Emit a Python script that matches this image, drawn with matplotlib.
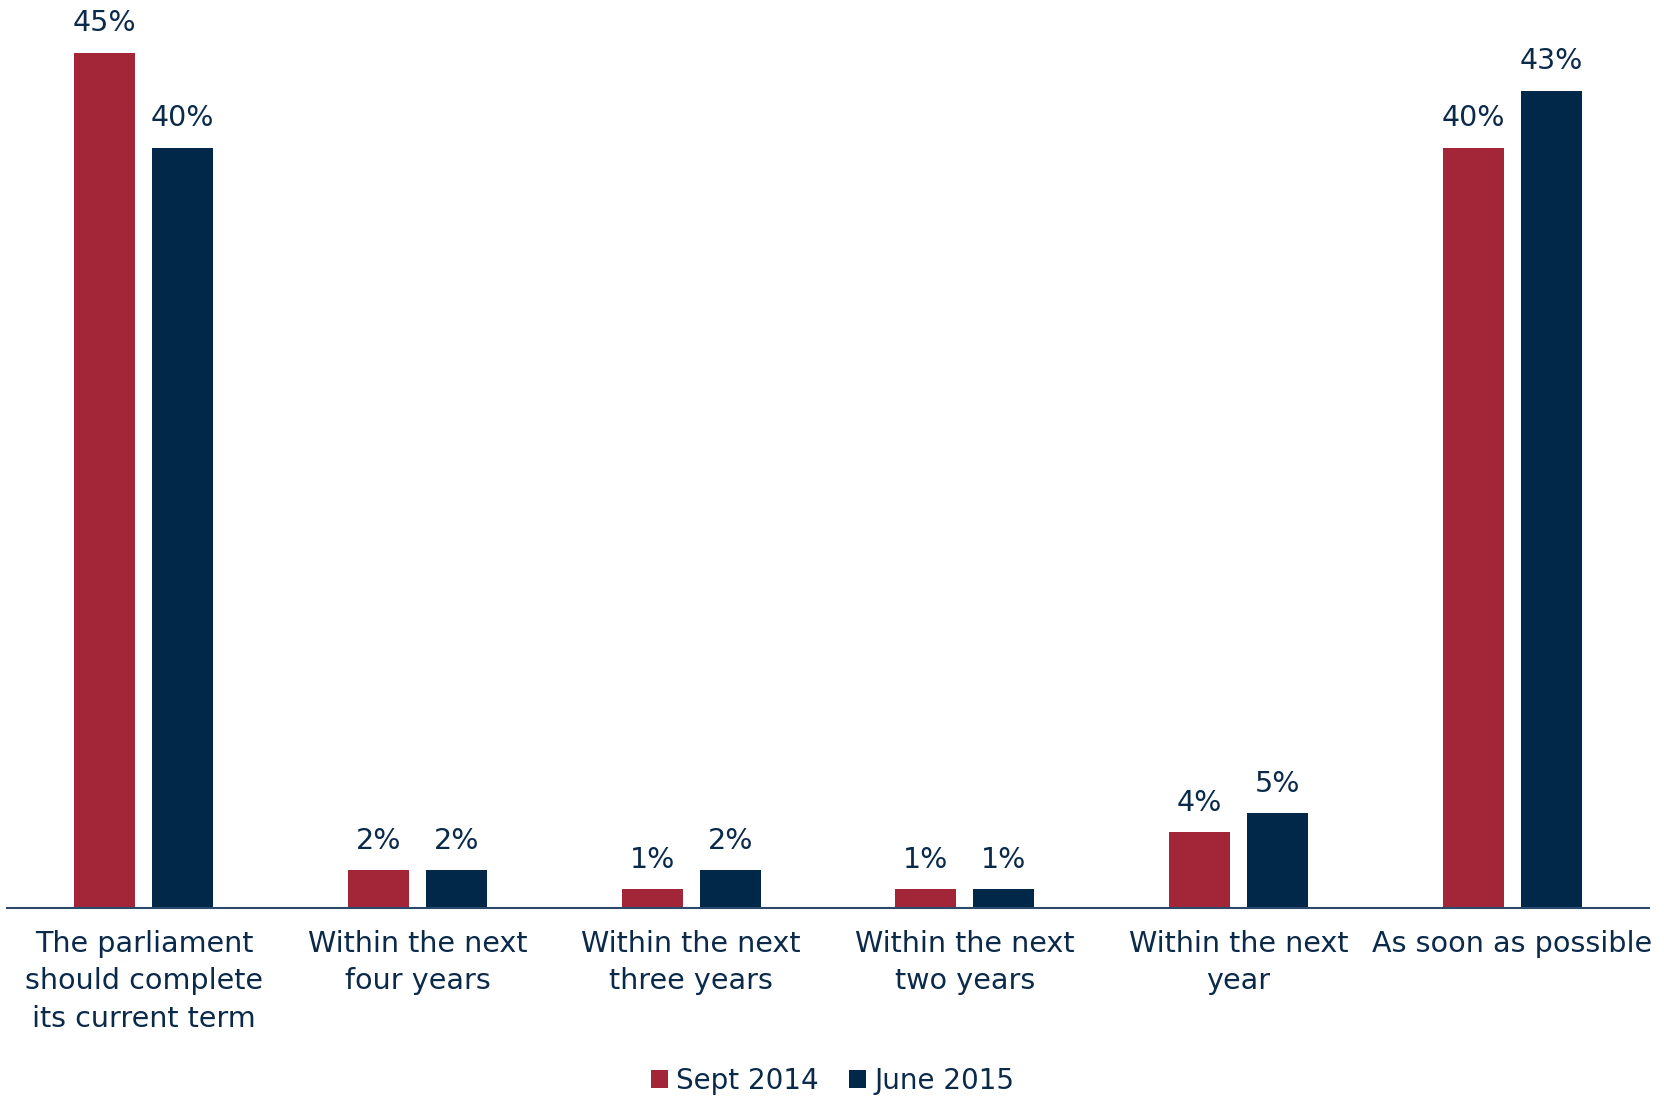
import matplotlib
matplotlib.use("Agg")
import matplotlib.pyplot as plt
import numpy as np

categories = ["The parliament\nshould complete\nits current term",
              "Within the next\nfour years",
              "Within the next\nthree years",
              "Within the next\ntwo years",
              "Within the next\nyear",
              "As soon as possible"]
series_names = ["Sept 2014", "June 2015"]
sept_2014 = [45, 2, 1, 1, 4, 40]
june_2015 = [40, 2, 2, 1, 5, 43]

RED = "#A32638"
NAVY = "#012749"
TEXT = "#0B2A4A"

plt.rcParams['font.family'] = ['DejaVu Sans']

fig = plt.figure(figsize=(16.65, 10.97), dpi=100)
ax = fig.add_axes([7/1665, 1 - 908/1097, (1649-7)/1665, 903/1097])

x = np.arange(len(categories))
w = 0.223
off = 0.1425
b1 = ax.bar(x - off, sept_2014, w, color=RED, label=series_names[0])
b2 = ax.bar(x + off, june_2015, w, color=NAVY, label=series_names[1])

for bars, vals in ((b1, sept_2014), (b2, june_2015)):
    for r, v in zip(bars, vals):
        ax.annotate(f"{v}%", (r.get_x() + r.get_width()/2, r.get_height()),
                    xytext=(0, 11), textcoords="offset points",
                    ha="center", va="bottom", fontsize=20.5, color=TEXT,
                    annotation_clip=False)

ax.set_xlim(-0.5, 5.5)
ax.set_ylim(0, 47.5)
ax.set_xticks(x)
ax.set_xticklabels(categories, fontsize=20.6, color=TEXT, linespacing=1.42)
ax.tick_params(axis="x", length=0, pad=16)
ax.set_yticks([])
for s in ("top", "left", "right"):
    ax.spines[s].set_visible(False)
ax.spines["bottom"].set_color("#2B4A6B")
ax.spines["bottom"].set_linewidth(1.5)

leg = fig.legend(handles=[b1, b2], labels=series_names, loc="center",
                 bbox_to_anchor=(0.5, 1 - 1081/1097), ncol=2, frameon=False,
                 fontsize=20, handlelength=0.6, handleheight=0.6,
                 handletextpad=0.3, columnspacing=1.1)
for t in leg.get_texts():
    t.set_color(TEXT)

fig.savefig("out.png", dpi=100)
